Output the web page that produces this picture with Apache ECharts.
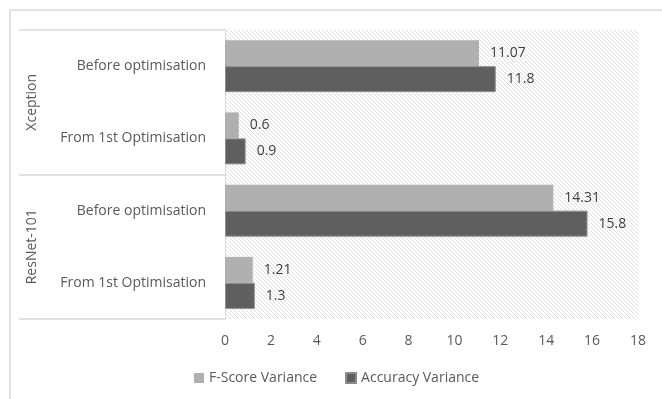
<!DOCTYPE html>
<html>
<head>
<meta charset="utf-8">
<script src="https://cdn.jsdelivr.net/npm/echarts@6/dist/echarts.min.js"></script>
<style>
  html, body { margin: 0; padding: 0; background: #fff; }
  #chart { width: 662px; height: 399px; }
</style>
</head>
<body>
<div id="chart"></div>
<script>
// Models and stages (top to bottom)
const groups = ['Xception', 'ResNet-101'];
const stages = ['Before optimisation', 'From 1st Optimisation', 'Before optimisation', 'From 1st Optimisation'];
const seriesNames = ['F-Score Variance', 'Accuracy Variance'];
const fScoreVariance = [11.07, 0.6, 14.31, 1.21];
const accuracyVariance = [11.8, 0.9, 15.8, 1.3];
const xTicks = { min: 0, max: 18, interval: 2 };

const FONT = 'Open Sans';

// Diagonal hatch used as plot-area background
function hatchPattern() {
  const c = document.createElement('canvas');
  c.width = 4; c.height = 4;
  const g = c.getContext('2d');
  g.fillStyle = '#ffffff';
  g.fillRect(0, 0, 4, 4);
  g.strokeStyle = '#dedede';
  g.lineWidth = 1;
  g.beginPath();
  g.moveTo(-1, -1); g.lineTo(5, 5);
  g.moveTo(-1, 3); g.lineTo(1, 5);
  g.moveTo(3, -1); g.lineTo(5, 1);
  g.stroke();
  return { image: c, repeat: 'repeat' };
}

const chart = echarts.init(document.getElementById('chart'), null, { renderer: 'canvas' });

const labelStyle = {
  show: true,
  position: 'right',
  distance: 11,
  color: '#404040',
  fontFamily: FONT,
  fontSize: 14
};

chart.setOption({
  animation: false,
  backgroundColor: '#ffffff',
  textStyle: { fontFamily: FONT },
  graphic: [{
    type: 'rect',
    shape: { x: 10, y: 10, width: 720, height: 500 },
    style: { fill: 'none', stroke: '#d9d9d9', lineWidth: 1.5 },
    silent: true
  }],
  grid: {
    left: 225, right: 24, top: 30, bottom: 80,
    show: true,
    backgroundColor: hatchPattern(),
    borderWidth: 0
  },
  legend: {
    bottom: 9,
    left: 189,
    itemWidth: 10,
    itemHeight: 10,
    itemGap: 28,
    icon: 'rect',
    textStyle: { color: '#595959', fontSize: 14, fontFamily: FONT },
    data: seriesNames
  },
  xAxis: {
    type: 'value',
    min: xTicks.min,
    max: xTicks.max,
    interval: xTicks.interval,
    axisLine: { show: false },
    axisTick: { show: false },
    splitLine: { show: false },
    axisLabel: { color: '#595959', fontSize: 14, fontFamily: FONT, margin: 15 }
  },
  yAxis: [{
    type: 'category',
    inverse: true,
    data: stages,
    axisLine: { show: true, lineStyle: { color: '#d9d9d9', width: 1 } },
    axisTick: { show: false },
    axisLabel: { color: '#595959', fontSize: 14, fontFamily: FONT, margin: 19 }
  }, {
    type: 'category',
    inverse: true,
    position: 'left',
    data: groups,
    axisLine: { show: false },
    axisTick: { show: true, length: 206, lineStyle: { color: '#d9d9d9', width: 1.5 } },
    axisLabel: { color: '#595959', fontSize: 14, fontFamily: FONT, rotate: 90, margin: 186 }
  }],
  series: [{
    name: seriesNames[0],
    type: 'bar',
    yAxisIndex: 0,
    data: fScoreVariance,
    barWidth: 26,
    barGap: '0%',
    itemStyle: { color: '#b0b0b0' },
    label: labelStyle
  }, {
    name: seriesNames[1],
    type: 'bar',
    yAxisIndex: 0,
    data: accuracyVariance,
    barWidth: 26,
    barGap: '0%',
    itemStyle: { color: '#5f5f5f', borderColor: '#8c8c8c', borderWidth: 1 },
    label: labelStyle
  }]
});
</script>
</body>
</html>
